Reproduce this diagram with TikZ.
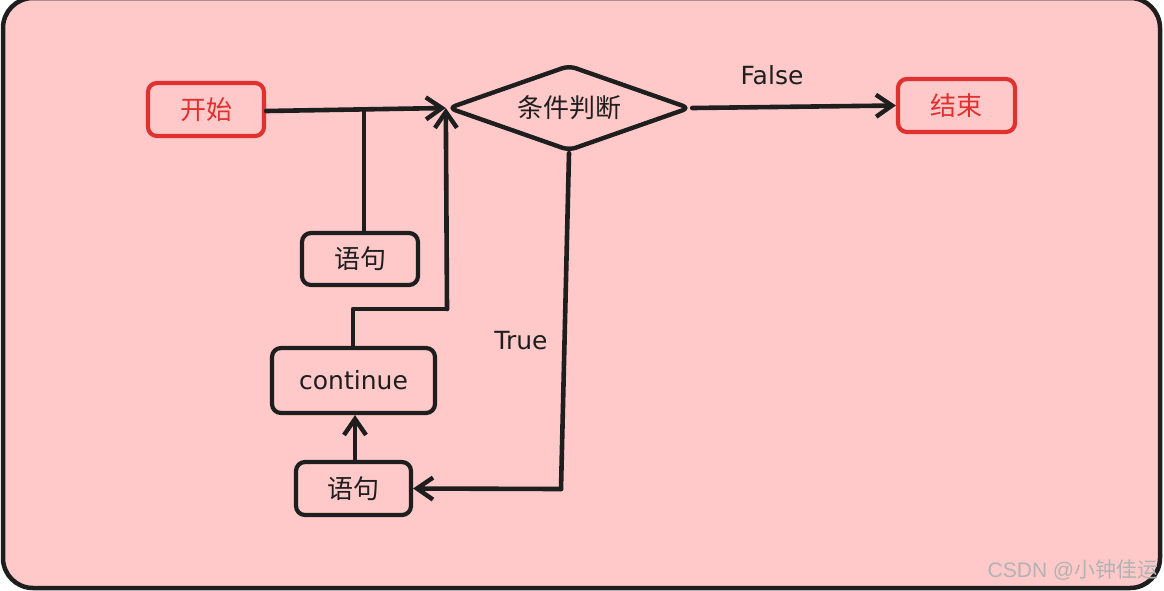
\documentclass[tikz,border=0pt]{standalone}
\usepackage{fontspec}
\setmainfont{DejaVu Sans}
\newfontfamily\cjk{Noto Sans CJK SC}
\newfontfamily\wmfont{Liberation Sans}
\usetikzlibrary{arrows.meta,shapes.geometric}
\definecolor{bgpink}{HTML}{FFC9C9}
\definecolor{xred}{HTML}{E03131}
\definecolor{xdark}{HTML}{1E1E1E}
\begin{document}
\begin{tikzpicture}[x=1pt,y=-1pt,
  box/.style={draw=xdark,line width=4.2pt,rounded corners=9pt,inner sep=0pt,text=xdark,font=\cjk\fontsize{26}{30}\selectfont},
  redbox/.style={box,draw=xred,text=xred},
  conn/.style={draw=xdark,line width=4.6pt,line cap=round,line join=round},
  arr/.style={conn,-{Straight Barb[length=16pt,width=22pt,line width=4.4pt]}},
  lbl/.style={text=xdark,font=\fontsize{25}{30}\selectfont}]
\useasboundingbox (0,0) rectangle (1164,590);
\fill[white] (0,0) rectangle (1164,590);
\draw[fill=bgpink,draw=xdark,line width=4.5pt,rounded corners=30pt] (3,-2) rectangle (1160,588);
% nodes
\node[redbox,minimum width=116pt,minimum height=53pt] (start) at (206,109.5) {开始};
\node[redbox,minimum width=117pt,minimum height=53pt] (end) at (956.5,105.5) {结束};
\node[draw=xdark,line width=4.4pt,rounded corners=7pt,diamond,aspect=2.8,minimum width=242pt,minimum height=86pt,inner sep=0pt,text=xdark,font=\cjk\fontsize{26}{30}\selectfont] (cond) at (569,108) {条件判断};
\node[box,minimum width=116pt,minimum height=52pt] (s1) at (360,259) {语句};
\node[box,minimum width=163pt,minimum height=65pt,font=\fontsize{25}{30}\selectfont] (cont) at (353.5,380.5) {continue};
\node[box,minimum width=115pt,minimum height=53pt] (s2) at (353.5,488.5) {语句};
% labels
\node[lbl] (lfalse) at (772,75) {False};
\node[lbl] (ltrue) at (521,341) {True};
\node[text=black!30,font=\wmfont\fontsize{21}{24}\selectfont,inner sep=0pt] (wm) at (1073,570) {CSDN @{\cjk 小钟佳运}};
% connectors
\coordinate (j1) at (364,111);
\coordinate (c1) at (561,489);
\coordinate (k1) at (353,309);
\coordinate (k2) at (447,309);
\draw[arr] (start.east |- j1) -- (cond.west);
\draw[conn] (s1.north -| j1) -- (j1);
\draw[arr] (cond.east) -- (end.west);
\draw[conn] (cont.north -| k1) -- (k1) -- (k2);
\draw[arr] (k2) -- (cond.west);
\draw[arr] (s2.north -| 355,0) -- (cont.south -| 355,0);
\draw[conn] (cond.south) -- (c1);
\draw[arr] (c1) -- (s2.east);
\end{tikzpicture}
\end{document}
